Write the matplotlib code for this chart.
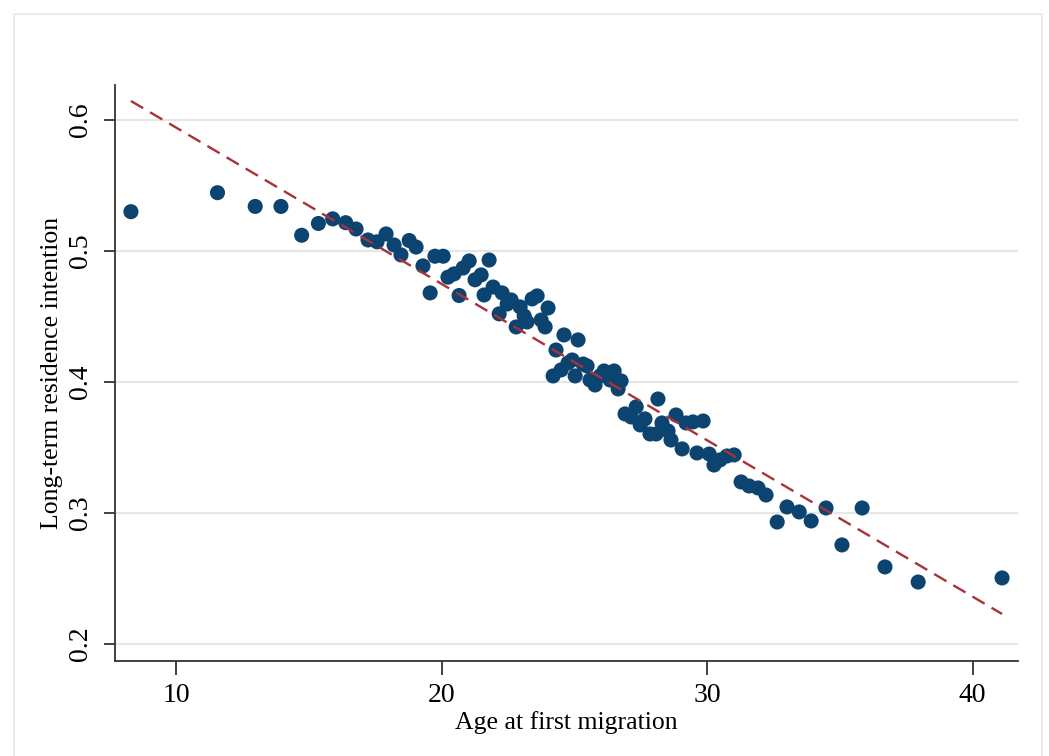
import matplotlib
matplotlib.use('Agg')
import matplotlib.pyplot as plt
from matplotlib.patches import Rectangle

# binned means: age at first migration vs long-term residence intention
age = [8.30, 11.56, 12.98, 13.95, 14.73, 15.36, 15.90, 16.39, 16.78, 17.23,
       17.57, 17.91, 18.21, 18.47, 18.78, 19.04, 19.30, 19.57, 19.75, 20.06,
       20.24, 20.47, 20.66, 20.81, 21.04, 21.26, 21.49, 21.60, 21.79, 21.94,
       22.17, 22.28, 22.47, 22.62, 22.81, 22.96, 23.11, 23.22, 23.41, 23.60,
       23.75, 23.90, 24.01, 24.20, 24.31, 24.50, 24.61, 24.76, 24.92, 25.03,
       25.14, 25.33, 25.48, 25.59, 25.78, 25.97, 26.12, 26.35, 26.50, 26.65,
       26.76, 26.91, 27.14, 27.33, 27.48, 27.66, 27.85, 28.08, 28.15, 28.30,
       28.53, 28.64, 28.83, 29.06, 29.21, 29.47, 29.62, 29.85, 30.08, 30.26,
       30.49, 30.75, 31.02, 31.28, 31.58, 31.92, 32.22, 32.64, 33.01, 33.47,
       33.92, 34.48, 35.08, 35.84, 36.70, 37.95, 41.11]
intention = [0.530, 0.5445, 0.534, 0.534, 0.512, 0.521, 0.5245, 0.5216, 0.5168, 0.5084,
             0.507, 0.513, 0.5046, 0.497, 0.508, 0.503, 0.4886, 0.468, 0.496, 0.496,
             0.480, 0.4825, 0.466, 0.487, 0.4924, 0.478, 0.4817, 0.4664, 0.4931, 0.4725,
             0.452, 0.468, 0.4595, 0.4626, 0.442, 0.4573, 0.4504, 0.4458, 0.4634, 0.4657,
             0.4473, 0.442, 0.4565, 0.4046, 0.4244, 0.4092, 0.4359, 0.4145, 0.4168, 0.4046,
             0.4321, 0.4137, 0.4122, 0.4015, 0.3977, 0.4046, 0.4084, 0.4015, 0.4084, 0.3947,
             0.4008, 0.3756, 0.3733, 0.381, 0.3672, 0.3718, 0.3603, 0.3603, 0.387, 0.3687,
             0.3626, 0.3557, 0.3748, 0.3489, 0.3687, 0.3695, 0.3458, 0.3702, 0.345, 0.3366,
             0.3405, 0.3435, 0.3443, 0.3237, 0.3206, 0.3191, 0.3137, 0.2931, 0.3046, 0.3008,
             0.2939, 0.3038, 0.2756, 0.3038, 0.2588, 0.2473, 0.2504]

# linear fit line endpoints
fit_x = [8.30, 41.11]
fit_y = [0.6145, 0.2229]

xticks = [10, 20, 30, 40]
yticks = [0.2, 0.3, 0.4, 0.5, 0.6]

plt.rcParams['font.family'] = ['Liberation Serif', 'DejaVu Serif']

fig = plt.figure(figsize=(10.49, 7.56), dpi=100)
fig.patches.append(Rectangle((14 / 1049, -0.05), 1028 / 1049, 1.05 - 14 / 756,
                             transform=fig.transFigure, fill=False,
                             edgecolor='#ececec', linewidth=1.5))
ax = fig.add_axes([115 / 1049, 95 / 756, 903 / 1049, 576 / 756])

for yt in yticks:
    ax.axhline(yt, color='#e6e6e6', linewidth=1.6, zorder=0)

ax.scatter(age, intention, s=118, color='#0b4470', edgecolors='none', zorder=3)
ax.plot(fit_x, fit_y, color='#a8323a', linewidth=1.7, dashes=(6.0, 3.4), zorder=4)

ax.set_xlim(7.70, 41.71)
ax.set_ylim(0.187, 0.6267)
ax.set_xticks(xticks)
ax.set_yticks(yticks)
ax.set_yticklabels([str(v) for v in yticks], rotation=90, va='center')
ax.tick_params(axis='both', labelsize=20, color='#333333', width=1.3)
ax.tick_params(axis='x', length=10, pad=6)
ax.tick_params(axis='y', length=8, pad=8)

for side in ['top', 'right']:
    ax.spines[side].set_visible(False)
for side in ['left', 'bottom']:
    ax.spines[side].set_color('#333333')
    ax.spines[side].set_linewidth(1.3)

ax.set_xlabel('Age at first migration', fontsize=18.5, labelpad=2)
ax.set_ylabel('Long-term residence intention', fontsize=18.5)
ax.yaxis.set_label_coords(-0.058, 0.5)

fig.savefig('out.png', dpi=100)
